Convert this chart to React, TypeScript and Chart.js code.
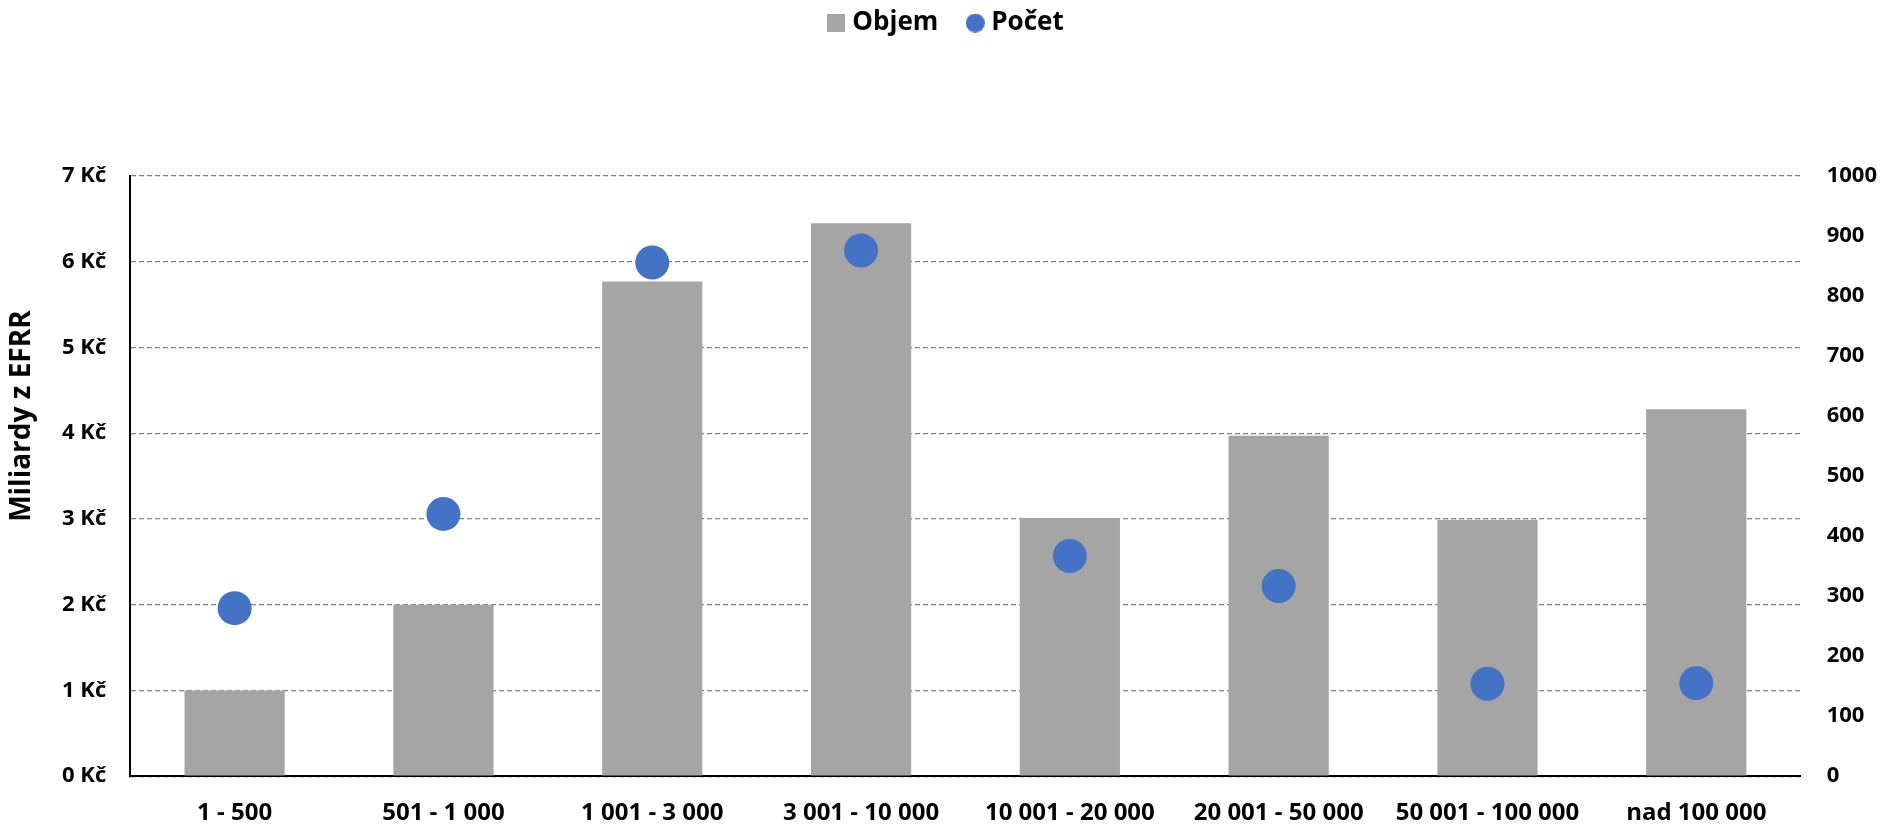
import React, { useEffect, useRef } from "react";
import { Chart, registerables } from "chart.js";

Chart.register(...registerables);

const categories = [
  "1 - 500",
  "501 - 1 000",
  "1 001 - 3 000",
  "3 001 - 10 000",
  "10 001 - 20 000",
  "20 001 - 50 000",
  "50 001 - 100 000",
  "nad 100 000",
];
const objemValues = [1.0, 2.0, 5.77, 6.45, 3.01, 3.97, 2.99, 4.28];
const pocetValues = [280, 437, 856, 876, 367, 317, 154, 155];
const seriesNames = ["Objem", "Počet"];
const yTitle = "Miliardy z EFRR";
const currency = " Kč";

const BAR_COLOR = "#A5A5A5";
const POINT_COLOR = "#4472C4";
const FONT = '"Open Sans", "Noto Sans", sans-serif';

function makeSwatch(kind: "rect" | "circle", color: string, size: number) {
  const c = document.createElement("canvas");
  c.width = size;
  c.height = size;
  const g = c.getContext("2d")!;
  g.fillStyle = color;
  if (kind === "rect") {
    g.fillRect(0, 0, size, size);
  } else {
    g.beginPath();
    g.arc(size / 2, size / 2, size / 2, 0, Math.PI * 2);
    g.fill();
  }
  return c;
}

const legendMargin = {
  id: "legendMargin",
  beforeInit(chart: any) {
    if (!chart.legend) return;
    const fit = chart.legend.fit;
    chart.legend.fit = function () {
      fit.bind(chart.legend)();
      this.height += 130;
    };
  },
  afterLayout(chart: any) {
    if (!chart.legend) return;
    chart.legend.left -= 22;
    chart.legend.right -= 22;
  },
};

const yTitlePlugin = {
  id: "yTitlePlugin",
  afterDraw(chart: any) {
    const ctx = chart.ctx;
    const area = chart.chartArea;
    ctx.save();
    ctx.translate(22, area.top + (area.bottom - area.top) * 0.4);
    ctx.rotate(-Math.PI / 2);
    ctx.font = `bold 28px ${FONT}`;
    ctx.fillStyle = "#000";
    ctx.textAlign = "center";
    ctx.textBaseline = "middle";
    ctx.fillText(yTitle, 0, 0);
    ctx.restore();
  },
};

export default function App() {
  const ref = useRef<HTMLCanvasElement | null>(null);

  useEffect(() => {
    document.body.style.margin = "0";
    const canvas = ref.current;
    if (!canvas) return;
    const swatches = [
      makeSwatch("rect", BAR_COLOR, 18),
      makeSwatch("circle", POINT_COLOR, 19),
    ];
    const chart = new Chart(canvas, {
      type: "bar",
      data: {
        labels: categories,
        datasets: [
          {
            type: "bar",
            label: seriesNames[0],
            data: objemValues,
            backgroundColor: BAR_COLOR,
            borderWidth: 0,
            yAxisID: "y",
            order: 1,
            categoryPercentage: 0.48,
            barPercentage: 1,
          } as any,
          {
            type: "line",
            label: seriesNames[1],
            data: pocetValues,
            showLine: false,
            backgroundColor: POINT_COLOR,
            borderColor: POINT_COLOR,
            pointRadius: 17,
            pointHoverRadius: 17,
            pointBorderWidth: 0,
            pointStyle: "circle",
            yAxisID: "y1",
            order: 0,
          } as any,
        ],
      },
      options: {
        animation: false,
        responsive: false,
        maintainAspectRatio: false,
        layout: { padding: { left: 38, right: -20, top: -24, bottom: -27 } },
        plugins: {
          legend: {
            position: "top",
            labels: {
              usePointStyle: true,
              boxWidth: 6,
              boxHeight: 18,
              padding: 34,
              color: "#000",
              font: { family: FONT, size: 26, weight: "bold" },
              sort: (a: any, b: any) => a.datasetIndex - b.datasetIndex,
              generateLabels: (ch: any) => {
                const items = Chart.defaults.plugins.legend.labels.generateLabels(ch);
                items.forEach((it: any) => {
                  it.pointStyle = swatches[it.datasetIndex];
                });
                return items;
              },
            },
          },
          tooltip: { enabled: false },
        },
        scales: {
          x: {
            grid: { display: false, drawTicks: false },
            border: { display: true, color: "#000", width: 2 },
            ticks: {
              color: "#000",
              padding: 23,
              maxRotation: 0,
              autoSkip: false,
              font: { family: FONT, size: 24, weight: "bold" },
            },
          },
          y: {
            position: "left",
            min: 0,
            max: 7,
            grid: {
              color: "#808080",
              lineWidth: 1.2,
              drawTicks: false,
            },
            border: { display: true, color: "#000", width: 2, dash: [5, 3] } as any,
            ticks: {
              stepSize: 1,
              color: "#000",
              padding: 24,
              font: { family: FONT, size: 22, weight: "bold" },
              callback: (v: any) => `${v}${currency}`,
            },
          },
          y1: {
            position: "right",
            min: 0,
            max: 1000,
            grid: { display: false, drawTicks: false },
            border: { display: false },
            ticks: {
              stepSize: 100,
              color: "#000",
              padding: 26,
              font: { family: FONT, size: 22, weight: "bold" },
              callback: (v: any) => String(v),
            },
          },
        },
      } as any,
      plugins: [legendMargin, yTitlePlugin],
    });
    return () => chart.destroy();
  }, []);

  return (
    <div style={{ width: 1883, height: 824 }}>
      <canvas ref={ref} width={1883} height={824} style={{ display: "block" }} />
    </div>
  );
}
